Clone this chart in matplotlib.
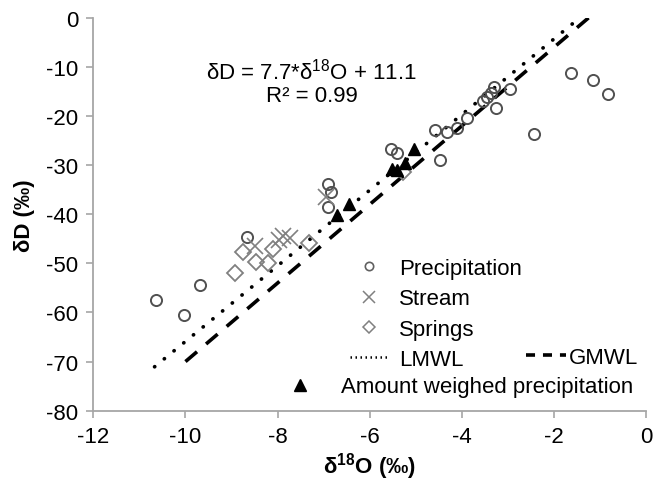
import numpy as np
import matplotlib
matplotlib.use('Agg')
from matplotlib import pyplot as plt
from matplotlib.lines import Line2D

plt.rcParams['font.family'] = ['Liberation Sans', 'DejaVu Sans']
plt.rcParams['mathtext.fontset'] = 'custom'
plt.rcParams['mathtext.rm'] = 'Liberation Sans'
plt.rcParams['mathtext.bf'] = 'Liberation Sans:bold'
plt.rcParams['axes.unicode_minus'] = False

# precipitation samples (d18O, dD)
precip_x = [-10.64, -10.04, -9.69, -8.66, -6.90, -6.85, -6.90, -5.55, -5.40, -4.48,
            -4.59, -4.32, -4.10, -3.90, -3.55, -3.45, -3.37, -3.30, -3.26, -2.96,
            -2.44, -1.63, -1.16, -0.84]
precip_y = [-57.5, -60.5, -54.4, -44.6, -33.8, -35.5, -38.5, -26.8, -27.5, -29.0,
            -22.9, -23.3, -22.4, -20.5, -17.0, -16.2, -15.4, -14.2, -18.4, -14.6,
            -23.6, -11.2, -12.7, -15.6]

stream_x = [-8.50, -7.98, -7.88, -7.74, -6.95]
stream_y = [-46.5, -45.3, -44.4, -44.9, -36.5]

springs_x = [-8.92, -8.76, -8.48, -8.20, -8.10, -7.31, -5.28]
springs_y = [-51.9, -47.7, -49.7, -49.9, -47.0, -45.8, -31.4]

amount_x = [-6.72, -6.45, -5.52, -5.40, -5.23, -5.05]
amount_y = [-40.2, -38.0, -30.8, -31.0, -29.6, -26.8]

# meteoric water lines: slope, intercept, x range
lmwl_slope, lmwl_int = 7.7, 11.1
lmwl_range = [-10.67, -1.44]
gmwl_slope, gmwl_int = 8.0, 10.0
gmwl_range = [-10.0, -1.25]

fig = plt.figure(figsize=(6.56, 4.85), dpi=100)
ax = fig.add_axes([93.3 / 656, 73.3 / 485, 553 / 656, 393 / 485])

fs = 16
lx = np.array(lmwl_range)
gx = np.array(gmwl_range)
ax.plot(lx, lmwl_slope * lx + lmwl_int, color='black', lw=2.7,
        linestyle=(0, (0.05, 3.3)), dash_capstyle='round', zorder=2)
ax.plot(gx, gmwl_slope * gx + gmwl_int, color='black', lw=2.6,
        linestyle=(0, (4.2, 3.3)), dash_capstyle='butt', zorder=2)

ax.plot(precip_x, precip_y, 'o', ms=8, mfc='none', mec='#505050', mew=1.4, zorder=3)
ax.plot(stream_x, stream_y, 'x', ms=11, mec='#808080', mew=1.2, zorder=3)
ax.plot(springs_x, springs_y, 'D', ms=8, mfc='none', mec='#808080', mew=1.3, zorder=3)
ax.plot(amount_x, amount_y, '^', ms=9, color='black', zorder=4)

ax.set_xlim(-12, 0)
ax.set_ylim(-80, 0)
ax.set_xticks(np.arange(-12, 1, 2))
ax.set_yticks(np.arange(-80, 1, 10))
for s in ['top', 'right']:
    ax.spines[s].set_visible(False)
for s in ['left', 'bottom']:
    ax.spines[s].set_color('#a6a6a6')
    ax.spines[s].set_linewidth(1.3)
ax.tick_params(direction='out', length=5, width=1.2, color='#a6a6a6',
               labelsize=fs, pad=6)

ax.set_xlabel('δ$^{\\mathbf{18}}$O (‰)', fontsize=fs, fontweight='bold', labelpad=2)
ax.set_ylabel('δD (‰)', fontsize=fs, fontweight='bold', labelpad=8)

ax.text(-7.26, -13.1, 'δD = 7.7*δ$^{\\mathregular{18}}$O + 11.1\nR² = 0.99',
        ha='center', va='center', fontsize=fs, linespacing=1.1)

h_pre = Line2D([], [], marker='o', ls='none', ms=6, mfc='none', mec='#606060', mew=1.2)
h_str = Line2D([], [], marker='x', ls='none', ms=9, mec='#808080', mew=1.1)
h_spr = Line2D([], [], marker='D', ls='none', ms=6.5, mfc='none', mec='#808080', mew=1.1)
h_lm = Line2D([], [], color='black', lw=1.8, linestyle=(0, (0.6, 1.4)))
h_gm = Line2D([], [], color='black', lw=2.6, linestyle=(0, (2.5, 2.2)))
h_am = Line2D([], [], marker='^', ls='none', ms=8, color='black')

leg1 = fig.legend([h_pre, h_str, h_spr, h_lm], ['Precipitation', 'Stream', 'Springs', 'LMWL'],
                  loc='upper left', bbox_to_anchor=(350 / 656, 1 - 259 / 485),
                  frameon=False, fontsize=fs, handlelength=1.7, handletextpad=0.5,
                  labelspacing=0.42, borderpad=0, borderaxespad=0)
leg2 = fig.legend([h_gm], ['GMWL'], loc='center left',
                  bbox_to_anchor=(526 / 656, 1 - 358 / 485), frameon=False, fontsize=fs,
                  handlelength=1.8, handletextpad=0.15, borderpad=0, borderaxespad=0)
leg3 = fig.legend([h_am], ['Amount weighed precipitation'], loc='center left',
                  bbox_to_anchor=(283 / 656, 1 - 388 / 485), frameon=False, fontsize=fs,
                  handlelength=1.5, handletextpad=1.1, borderpad=0, borderaxespad=0)

fig.savefig('out.png', dpi=100)
